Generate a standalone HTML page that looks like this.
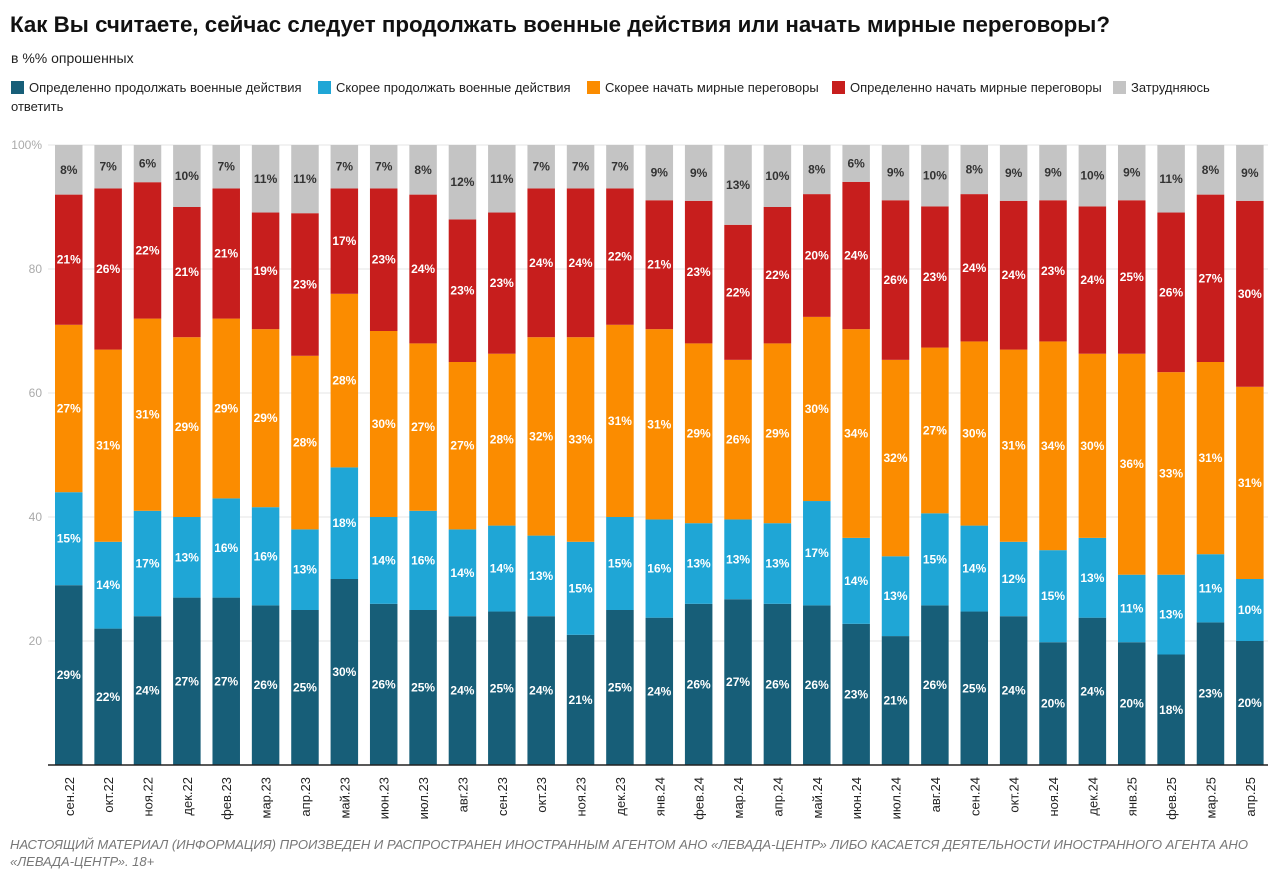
<!DOCTYPE html>
<html><head><meta charset="utf-8"><style>
body{margin:0;background:#fff;width:1280px;height:877px;overflow:hidden;font-family:"Liberation Sans",sans-serif}
</style></head><body>
<svg id="s" width="1280" height="877" xmlns="http://www.w3.org/2000/svg" font-family="Liberation Sans, sans-serif">
<text x="10" y="32" font-size="22" font-weight="bold" fill="#111" textLength="1100" lengthAdjust="spacingAndGlyphs">Как Вы считаете, сейчас следует продолжать военные действия или начать мирные переговоры?</text>
<text x="11" y="63" font-size="14" fill="#222">в %% опрошенных</text>
<g font-size="13" fill="#222">
<rect x="11" y="81" width="13" height="13" fill="#175e78"/><text x="29" y="92">Определенно продолжать военные действия</text>
<rect x="318" y="81" width="13" height="13" fill="#1fa6d6"/><text x="336" y="92">Скорее продолжать военные действия</text>
<rect x="587" y="81" width="13" height="13" fill="#fb8c00"/><text x="605" y="92">Скорее начать мирные переговоры</text>
<rect x="832" y="81" width="13" height="13" fill="#c71e1d"/><text x="850" y="92">Определенно начать мирные переговоры</text>
<rect x="1113" y="81" width="13" height="13" fill="#c4c4c4"/><text x="1131" y="92">Затрудняюсь</text>
<text x="11" y="111">ответить</text>
</g>
<g id="grid" font-size="12" fill="#aaa" text-anchor="end"></g>
<g id="bars"></g>
<line x1="48" y1="765" x2="1268" y2="765" stroke="#222" stroke-width="1.5"/>
<g font-size="13" font-style="italic" fill="#777">
<text x="10" y="849" textLength="1238" lengthAdjust="spacingAndGlyphs">НАСТОЯЩИЙ МАТЕРИАЛ (ИНФОРМАЦИЯ) ПРОИЗВЕДЕН И РАСПРОСТРАНЕН ИНОСТРАННЫМ АГЕНТОМ АНО «ЛЕВАДА-ЦЕНТР» ЛИБО КАСАЕТСЯ ДЕЯТЕЛЬНОСТИ ИНОСТРАННОГО АГЕНТА АНО</text>
<text x="10" y="866">«ЛЕВАДА-ЦЕНТР». 18+</text>
</g>
</svg>
<script>
var NS="http://www.w3.org/2000/svg";
function el(p,t,a,txt){var e=document.createElementNS(NS,t);for(var k in a)e.setAttribute(k,a[k]);if(txt!=null)e.textContent=txt;p.appendChild(e);return e;}
var g=document.getElementById('grid');
[0,20,40,60,80,100].forEach(function(v){var y=765-v*6.2;if(v>0)el(g,'line',{x1:48,x2:1268,y1:y,y2:y,stroke:'#e6e6e6','stroke-width':1});
if(v>0)el(g,'text',{x:42,y:y+4},v==100?'100%':String(v));});
var L=['сен.22','окт.22','ноя.22','дек.22','фев.23','мар.23','апр.23','май.23','июн.23','июл.23','авг.23','сен.23','окт.23','ноя.23','дек.23','янв.24','фев.24','мар.24','апр.24','май.24','июн.24','июл.24','авг.24','сен.24','окт.24','ноя.24','дек.24','янв.25','фев.25','мар.25','апр.25'];
var D=[[29,15,27,21,8],[22,14,31,26,7],[24,17,31,22,6],[27,13,29,21,10],[27,16,29,21,7],[26,16,29,19,11],[25,13,28,23,11],[30,18,28,17,7],[26,14,30,23,7],[25,16,27,24,8],[24,14,27,23,12],[25,14,28,23,11],[24,13,32,24,7],[21,15,33,24,7],[25,15,31,22,7],[24,16,31,21,9],[26,13,29,23,9],[27,13,26,22,13],[26,13,29,22,10],[26,17,30,20,8],[23,14,34,24,6],[21,13,32,26,9],[26,15,27,23,10],[25,14,30,24,8],[24,12,31,24,9],[20,15,34,23,9],[24,13,30,24,10],[20,11,36,25,9],[18,13,33,26,11],[23,11,31,27,8],[20,10,31,30,9]];
var C=['#175e78','#1fa6d6','#fb8c00','#c71e1d','#c4c4c4'];
var b=document.getElementById('bars');
D.forEach(function(d,i){var x=55+i*39.37,w=27.5,s=d.reduce(function(a,c){return a+c},0),y=765;
d.forEach(function(v,j){var h=v*620/s;y-=h;el(b,'rect',{x:x,y:y,width:w,height:h,fill:C[j]});
el(b,'text',{x:x+w/2,y:y+h/2+4,'text-anchor':'middle','font-size':12,'font-weight':'bold',fill:j==4?'#333':'#fff'},v+'%');});
el(b,'text',{transform:'translate('+(x+w/2+5)+',777) rotate(-90)','text-anchor':'end','font-size':13,fill:'#222'},L[i]);});
</script>
</body></html>
